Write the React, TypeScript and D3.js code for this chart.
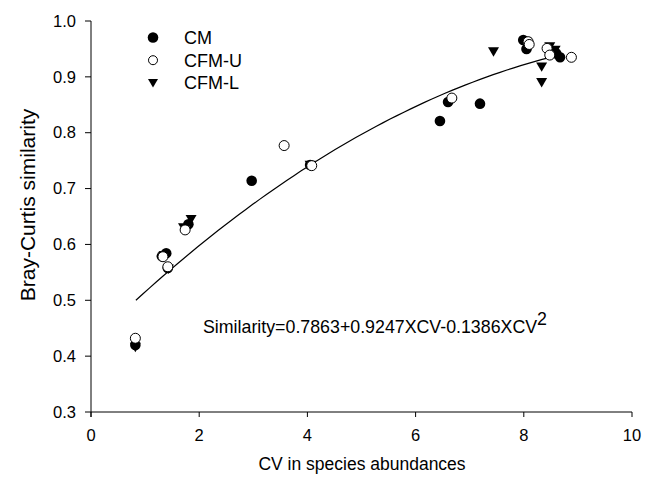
import React from "react";
import * as d3 from "d3";

const cmX = [0.82, 1.31, 1.39, 1.42, 1.80, 2.97, 4.05, 6.45, 6.60, 7.19, 7.99, 8.05, 8.60, 8.67];
const cmY = [0.420, 0.579, 0.584, 0.558, 0.636, 0.714, 0.742, 0.821, 0.855, 0.852, 0.966, 0.950, 0.942, 0.935];

const cfmUX = [0.82, 1.33, 1.42, 1.74, 3.57, 4.08, 6.67, 8.08, 8.10, 8.43, 8.48, 8.88];
const cfmUY = [0.432, 0.578, 0.560, 0.626, 0.777, 0.741, 0.862, 0.963, 0.958, 0.951, 0.939, 0.935];

const cfmLX = [0.82, 1.35, 1.43, 1.71, 1.85, 4.05, 7.44, 8.33, 8.33, 8.48, 8.58, 8.05];
const cfmLY = [0.416, 0.580, 0.556, 0.630, 0.645, 0.742, 0.945, 0.918, 0.890, 0.954, 0.948, 0.962];

// fitted quadratic (in plotted units), range of fit
const fitCoef = [0.4237, 0.09535, -0.004137];
const fitRange = [0.83, 8.45];

const xTicks = [0, 2, 4, 6, 8, 10];
const yTicks = [0.3, 0.4, 0.5, 0.6, 0.7, 0.8, 0.9, 1.0];

const legendItems = ["CM", "CFM-U", "CFM-L"];

export default function App() {
  const W = 653, H = 484;
  const x = d3.scaleLinear().domain([0, 10]).range([91, 632]);
  const y = d3.scaleLinear().domain([0.3, 1.0]).range([412, 21]);
  const font = "'Liberation Sans', Arial, sans-serif";

  const n = 60;
  const fitPts: [number, number][] = d3.range(n + 1).map((i) => {
    const v = fitRange[0] + ((fitRange[1] - fitRange[0]) * i) / n;
    return [v, fitCoef[0] + fitCoef[1] * v + fitCoef[2] * v * v];
  });
  const line = d3.line<[number, number]>().x((d) => x(d[0])).y((d) => y(d[1]));

  const tri = (cx: number, cy: number, s = 5.5) =>
    `M${cx - s},${cy - s * 0.8}L${cx + s},${cy - s * 0.8}L${cx},${cy + s * 0.9}Z`;

  return (
    <svg width={W} height={H} style={{ position: "absolute", left: 0, top: 0, background: "#fff" }} fontFamily={font}>
      <rect width={W} height={H} fill="#fff" />
      {/* axes */}
      <line x1={x(0)} x2={x(0)} y1={y(1.0)} y2={y(0.3) + 5} stroke="#000" strokeWidth={1} />
      <line x1={x(0)} x2={x(10)} y1={y(0.3)} y2={y(0.3)} stroke="#000" strokeWidth={1} />
      {yTicks.map((t) => (
        <g key={"y" + t}>
          <line x1={x(0) - 6} x2={x(0)} y1={y(t)} y2={y(t)} stroke="#000" />
          <text x={x(0) - 15} y={y(t)} dy="0.35em" textAnchor="end" fontSize={16.5} fill="#000">
            {t.toFixed(1)}
          </text>
        </g>
      ))}
      {xTicks.map((t) => (
        <g key={"x" + t}>
          <line x1={x(t)} x2={x(t)} y1={y(0.3)} y2={y(0.3) + 5} stroke="#000" />
          <text x={x(t)} y={y(0.3) + 29} textAnchor="middle" fontSize={16.5} fill="#000">
            {t}
          </text>
        </g>
      ))}
      <text x={362} y={470} textAnchor="middle" fontSize={17.5} fill="#000">CV in species abundances</text>
      <text transform={`translate(35,205) rotate(-90)`} textAnchor="middle" fontSize={21} fill="#000">
        Bray-Curtis similarity
      </text>

      {/* fit */}
      <path d={line(fitPts) || ""} fill="none" stroke="#000" strokeWidth={1.2} />

      {/* points */}
      {cfmLX.map((v, i) => (
        <path key={"l" + i} d={tri(x(v), y(cfmLY[i]))} fill="#000" />
      ))}
      {cmX.map((v, i) => (
        <circle key={"c" + i} cx={x(v)} cy={y(cmY[i])} r={5.3} fill="#000" />
      ))}
      {cfmUX.map((v, i) => (
        <circle key={"u" + i} cx={x(v)} cy={y(cfmUY[i])} r={5} fill="#fff" stroke="#000" strokeWidth={1} />
      ))}

      {/* legend */}
      {legendItems.map((name, i) => {
        const ly = 37.5 + i * 22.7;
        const lx = 153;
        return (
          <g key={name}>
            {i === 0 && <circle cx={lx} cy={ly} r={5.3} fill="#000" />}
            {i === 1 && <circle cx={lx} cy={ly} r={4.5} fill="#fff" stroke="#000" />}
            {i === 2 && <path d={tri(lx, ly, 5)} fill="#000" />}
            <text x={184} y={ly} dy="0.36em" fontSize={18} fill="#000">{name}</text>
          </g>
        );
      })}

      {/* equation */}
      <text x={203} y={333} fontSize={17.8} fill="#000">
        Similarity=0.7863+0.9247XCV-0.1386XCV
        <tspan dy={-8} fontSize={17.8}>2</tspan>
      </text>
    </svg>
  );
}
